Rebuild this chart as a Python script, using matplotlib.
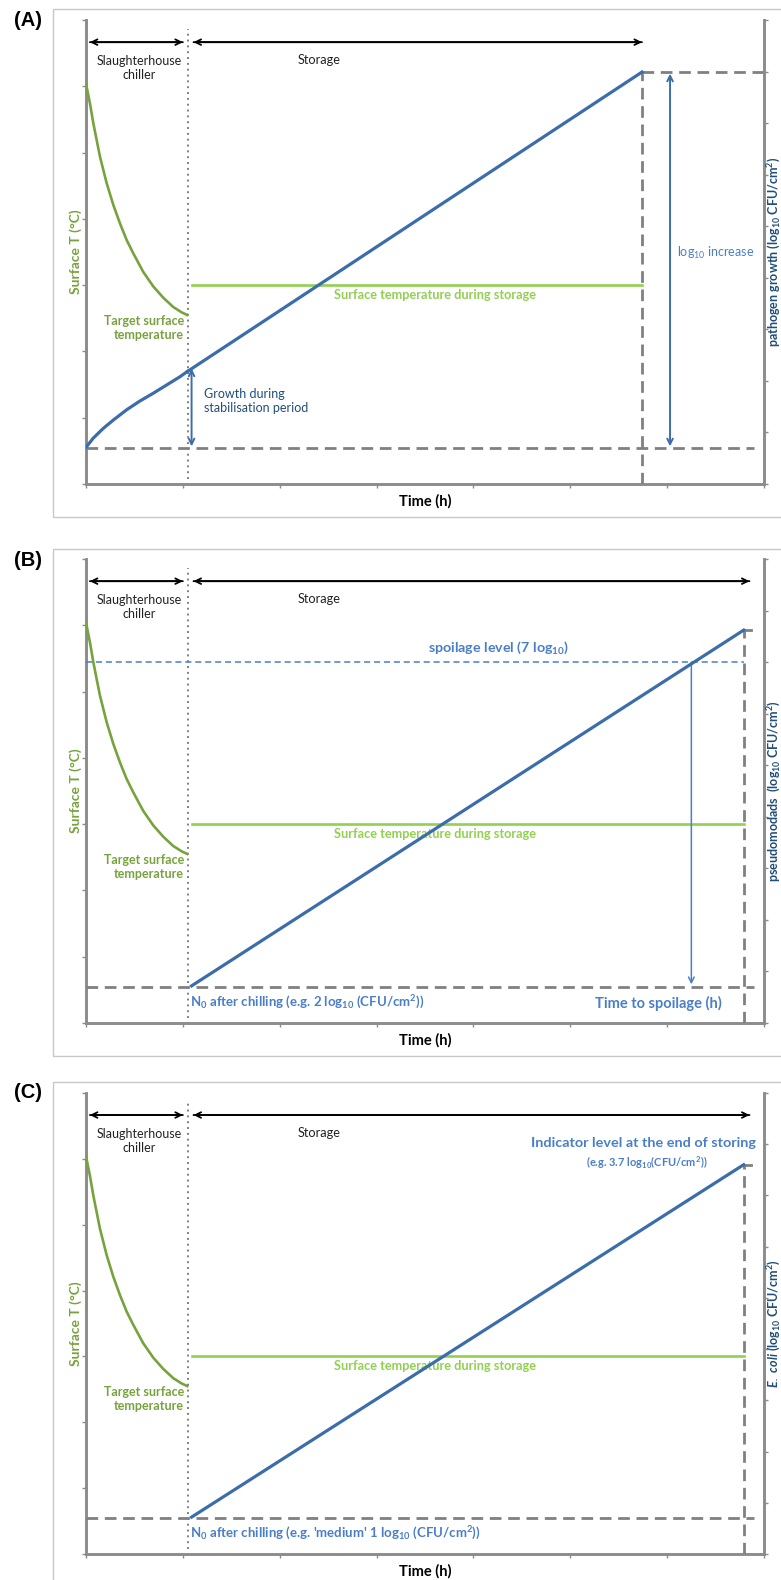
import matplotlib
matplotlib.use("Agg")
import matplotlib.pyplot as plt
from matplotlib.patches import Rectangle

plt.rcParams['font.family'] = ['Lato', 'DejaVu Sans']
plt.rcParams['mathtext.default'] = 'regular'
plt.rcParams['mathtext.fontset'] = 'custom'
plt.rcParams['mathtext.it'] = 'Lato:italic:bold'

# ---- data (x in h-ticks, T on left axis, log on right axis)
panels = ["(A)", "(B)", "(C)"]
hours_chill = [0, 0.041, 0.076, 0.110, 0.144, 0.213, 0.282, 0.351, 0.420, 0.488,
               0.591, 0.695, 0.798, 0.901, 0.987, 1.045]
temp_chill = [6.04, 5.74, 5.44, 5.19, 4.94, 4.54, 4.21, 3.93, 3.68, 3.48,
              3.20, 2.98, 2.81, 2.67, 2.59, 2.55]
temp_storage = 3.0

hours_stab = [0, 0.075, 0.179, 0.282, 0.420, 0.557, 0.694, 0.832, 0.970, 1.045]
log_stab = [0.71, 0.89, 1.08, 1.24, 1.44, 1.61, 1.76, 1.92, 2.08, 2.18]

storage_end = [5.74, 6.79, 6.79]
log_start = [2.18, 0.72, 0.72]
log_end = [7.99, 7.62, 7.60]
baseline = 0.70
spoilage_level = 7.0
time_to_spoilage = 6.25
stab_arrow_top = 2.24

right_labels = ["pathogen growth (log$_{10}$ CFU/cm$^{2}$)",
                "pseudomodads  (log$_{10}$ CFU/cm$^{2}$)",
                "$\\mathit{E.\\ coli}$ (log$_{10}$ CFU/cm$^{2}$)"]

GREEN = '#77A33E'
LGREEN = '#92D050'
BLUE = '#3C6DAB'
LBLUE = '#4A7FC8'
NAVY = '#1F4E79'
GREY = '#808080'
SPINE = '#8C8C8C'

W, H = 781, 1580
fig = plt.figure(figsize=(W / 100, H / 100), dpi=100)

# axes boxes in pixels: top, bottom
boxes = [(20, 484), (559, 1023), (1093, 1554)]
frames = [(9, 517), (549, 1056), (1082, 1600)]


def draw_panel(i):
    top, bot = boxes[i]
    ax = fig.add_axes([86 / W, 1 - bot / H, 678 / W, (bot - top) / H])
    ax2 = ax.twinx()
    ax.set_xlim(0, 7)
    ax.set_ylim(0, 7)
    ax2.set_ylim(0, 9)
    for a in (ax, ax2):
        a.spines['top'].set_visible(False)
        a.set_xticks(range(8))
        a.set_xticklabels([])
    ax.spines['right'].set_visible(False)
    ax2.spines['left'].set_visible(False)
    ax2.spines['bottom'].set_visible(False)
    for s in ('left', 'bottom'):
        ax.spines[s].set_color(SPINE)
        ax.spines[s].set_linewidth(2.1)
    ax2.spines['right'].set_color(SPINE)
    ax2.spines['right'].set_linewidth(2.1)
    ax.set_yticks(range(8))
    ax.set_yticklabels([])
    ax2.set_yticks(range(10))
    ax2.set_yticklabels([])
    ax.tick_params(colors=SPINE, length=3, width=1)
    ax2.tick_params(colors=SPINE, length=3, width=1)

    end = storage_end[i]

    # temperature
    ax.plot(hours_chill, temp_chill, color=GREEN, lw=1.9, zorder=3)
    ax.plot([1.09, end], [temp_storage, temp_storage], color=LGREEN, lw=1.9, zorder=3)

    # dotted separation
    ax.axvline(1.05, ymin=0.01, ymax=0.98, color=GREY, lw=1.4, ls=(0, (1, 2)))

    # period arrows
    ap = dict(arrowstyle='->', color='black', lw=1.3, shrinkA=0, shrinkB=0)
    ax2.annotate('', xy=(0.04, 8.57), xytext=(1.0, 8.57), arrowprops=ap)
    ax2.annotate('', xy=(1.0, 8.57), xytext=(0.04, 8.57), arrowprops=ap)
    arrow_end = 5.74 if i == 0 else 6.85
    ax2.annotate('', xy=(arrow_end, 8.57), xytext=(1.11, 8.57), arrowprops=ap)
    ax2.annotate('', xy=(1.11, 8.57), xytext=(arrow_end, 8.57), arrowprops=ap)
    ax2.text(0.55, 8.07, "Slaughterhouse\nchiller", ha='center', va='center',
             fontsize=9, linespacing=1.2, color='#222222')
    ax2.text(2.41, 8.22, "Storage", ha='center', va='center', fontsize=9.2, color='#222222')

    ax.text(1.01, 2.35, "Target surface\ntemperature", ha='right', va='center',
            fontsize=9, fontweight='bold', color=GREEN, linespacing=1.2)
    ax.text(3.6, 2.85, "Surface temperature during storage", ha='center', va='center',
            fontsize=9.2, fontweight='bold', color=LGREEN)

    # growth
    dash = (0, (4.2, 2.4))
    if i == 0:
        ax2.plot(hours_stab, log_stab, color=BLUE, lw=2.3, zorder=4)
        ax2.plot([hours_stab[-1], end], [log_start[i], log_end[i]], color=BLUE, lw=2.3, zorder=4)
        ax2.plot([0, 6.9], [baseline, baseline], color=GREY, lw=2.0, ls=dash)
        ax2.plot([end, 7], [log_end[i], log_end[i]], color=GREY, lw=2.0, ls=dash)
        ax2.plot([end, end], [0, log_end[i]], color=GREY, lw=2.0, ls=dash)
        bp = dict(arrowstyle='<->', color=BLUE, lw=1.4, shrinkA=0, shrinkB=0)
        ax2.annotate('', xy=(1.09, stab_arrow_top), xytext=(1.09, baseline + 0.03), arrowprops=bp)
        ax2.annotate('', xy=(6.03, log_end[i] - 0.03), xytext=(6.03, baseline + 0.03), arrowprops=bp)
        ax2.text(1.22, 1.61, "Growth during\nstabilisation period", ha='left', va='center',
                 fontsize=9, color=NAVY, linespacing=1.2)
        ax2.text(6.5, 4.48, "log$_{10}$ increase", ha='center', va='center',
                 fontsize=9, color=LBLUE)
    else:
        ax2.plot([1.09, end], [log_start[i], log_end[i]], color=BLUE, lw=2.3, zorder=4)
        ax2.plot([0, 6.9], [baseline, baseline], color=GREY, lw=2.0, ls=dash)
        ax2.plot([end, end], [0, log_end[i]], color=GREY, lw=2.0, ls=dash)
        ax2.plot([end, end + 0.08], [log_end[i], log_end[i]], color=GREY, lw=2.0)
        if i == 1:
            ax2.plot([0, end], [spoilage_level, spoilage_level], color=LBLUE, lw=1.1,
                     ls=(0, (4, 2.5)))
            ax2.annotate('', xy=(time_to_spoilage, baseline + 0.05),
                         xytext=(time_to_spoilage, spoilage_level),
                         arrowprops=dict(arrowstyle='->', color=LBLUE, lw=1.1,
                                         shrinkA=0, shrinkB=0))
            ax2.text(4.26, 7.27, "spoilage level (7 log$_{10}$)", ha='center', va='center',
                     fontsize=10.3, fontweight='bold', color=LBLUE)
            ax2.text(1.07, 0.40, "N$_0$ after chilling (e.g. 2 log$_{10}$ (CFU/cm$^2$))",
                     ha='left', va='center', fontsize=9.5, fontweight='bold', color=LBLUE)
            ax2.text(5.91, 0.37, "Time to spoilage (h)", ha='center', va='center',
                     fontsize=10.5, fontweight='bold', color=LBLUE)
        else:
            ax2.text(6.92, 8.03, "Indicator level at the end of storing", ha='right',
                     va='center', fontsize=10.4, fontweight='bold', color=LBLUE)
            ax2.text(5.79, 7.64, "(e.g. 3.7 log$_{10}$(CFU/cm$^2$))", ha='center',
                     va='center', fontsize=7.9, fontweight='bold', color=LBLUE)
            ax2.text(1.07, 0.40,
                     "N$_0$ after chilling (e.g. 'medium' 1 log$_{10}$ (CFU/cm$^2$))",
                     ha='left', va='center', fontsize=9.5, fontweight='bold', color=LBLUE)

    ax.set_xlabel("Time (h)", fontsize=10.5, fontweight='bold', labelpad=1)
    ax.text(-10 / 678, 0.5, "Surface T (°C)", transform=ax.transAxes, rotation=90,
            ha='center', va='center', fontsize=10, fontweight='bold', color=GREEN)
    ax2.text(1 + 10 / 678, 0.5, right_labels[i], transform=ax2.transAxes, rotation=90,
             ha='center', va='center', fontsize=9, fontweight='bold', color=NAVY)

    # panel frame and letter
    ftop, fbot = frames[i]
    fig.add_artist(Rectangle((53 / W, 1 - fbot / H), 1, (fbot - ftop) / H,
                             transform=fig.transFigure, fill=False,
                             edgecolor='#C8C8C8', lw=1.0))
    fig.text(14 / W, 1 - (ftop + 11) / H, panels[i], fontsize=14.5, fontweight='bold',
             family=['Liberation Sans', 'DejaVu Sans'], va='center')


for k in range(3):
    draw_panel(k)

fig.savefig("out.png", dpi=100)
